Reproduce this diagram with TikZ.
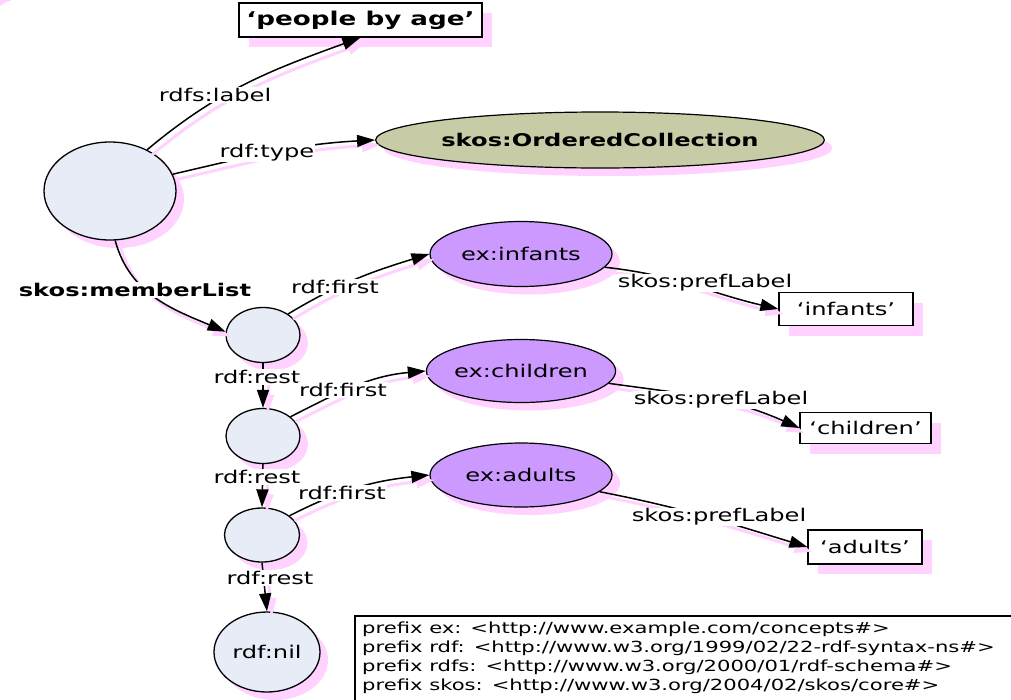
\documentclass[tikz,border=0pt]{standalone}
\usepackage{fontspec}
\setmainfont{DejaVu Sans}[FakeStretch=1.38]
\usetikzlibrary{arrows.meta,shadows,shapes.geometric}
\definecolor{shpink}{HTML}{FFD2FF}
\definecolor{blankfill}{HTML}{E8ECF6}
\definecolor{conceptfill}{HTML}{CC99FF}
\definecolor{classfill}{HTML}{C8CCA6}

\begin{document}
\begin{tikzpicture}[x=1pt,y=1pt,
  nshadow/.style={drop shadow={shadow xshift=8pt,shadow yshift=-8pt,fill=shpink,opacity=1}},
  txt/.style={font=\fontsize{17.5}{20}\selectfont},
  btxt/.style={font=\fontsize{17.5}{20}\selectfont\bfseries},
  blank/.style={ellipse,draw,line width=1.3pt,fill=blankfill,inner sep=0pt,nshadow,txt},
  concept/.style={ellipse,draw,line width=1.2pt,fill=conceptfill,inner sep=0pt,
    minimum width=182pt,minimum height=64pt,nshadow,txt},
  klass/.style={ellipse,draw,line width=1.2pt,fill=classfill,inner sep=0pt,nshadow,btxt},
  literal/.style={rectangle,draw,line width=1.2pt,fill=white,inner sep=0pt,
    drop shadow={shadow xshift=10pt,shadow yshift=-10pt,fill=shpink,opacity=1}},
  rel/.style={draw,line width=1.5pt,-{Triangle[length=18pt,width=12pt]},
    preaction={draw=shpink,line width=3pt,transform canvas={shift={(5pt,-5pt)}}}},
  lbl/.style={fill=white,inner sep=1pt,txt},
  blbl/.style={fill=white,inner sep=1pt,btxt}]

\useasboundingbox (0,0) rectangle (1011,-699);
\fill[shpink] (0,0) -- (12,0) .. controls (6,-2) .. (0,-6) -- cycle;

% resources
\node[blank,minimum width=132pt,minimum height=98pt] (top) at (110,-191) {};
\node[literal,minimum width=243pt,minimum height=34pt,font=\fontsize{19}{22}\selectfont\bfseries] (peop) at (360.5,-20) {‘people by age’};
\node[klass,minimum width=415pt,minimum height=56pt] (occ) at (600,-140) {skos:OrderedCollection};

\node[blank,minimum width=74pt,minimum height=55pt] (l1) at (263,-335) {};
\node[blank,minimum width=74pt,minimum height=55pt] (l2) at (263,-436) {};
\node[blank,minimum width=75pt,minimum height=54pt] (l3) at (262,-535) {};
\node[blank,minimum width=106pt,minimum height=80pt] (nil) at (267,-652) {rdf:nil};

\node[concept,minimum height=65pt] (inf) at (521,-254) {ex:infants};
\node[concept,minimum height=63pt] (chi) at (521,-371) {ex:children};
\node[concept] (adu) at (521,-475) {ex:adults};

\node[literal,minimum width=134pt,minimum height=33pt,txt] (inft) at (846,-309) {‘infants’};
\node[literal,minimum width=131pt,minimum height=31pt,txt] (chit) at (865.5,-428) {‘children’};
\node[literal,minimum width=114pt,minimum height=34pt,txt] (adut) at (865,-547) {‘adults’};

% properties of the collection
\draw[rel] (top.48) to[out=40,in=200] (peop.south);
\node[lbl] (plabel) at (215,-95) {rdfs:label};
\draw[rel] (top.15) to[out=13,in=183] (occ.west);
\node[lbl] (ptype) at (267,-153) {rdf:type};
\draw[rel] (top.-84) to[out=-75,in=157] (l1.175);
\node[blbl] (pmembers) at (135,-290) {skos:memberList};

% the list cells
\draw[rel] (l1.south) -- (l2.north);
\node[lbl] (prest1) at (257,-377) {rdf:rest};
\draw[rel] (l1.40) to[out=31,in=197] (inf.west);
\node[lbl] (pfirst1) at (335,-287) {rdf:first};

\draw[rel] (l2.south) -- (l3.north);
\node[lbl] (prest2) at (257,-477) {rdf:rest};
\draw[rel] (l2.35) to[out=27,in=185] (chi.west);
\node[lbl] (pfirst2) at (343,-390) {rdf:first};

\draw[rel] (l3.south) -- (nil.north);
\node[lbl] (prest3) at (270,-578) {rdf:rest};
\draw[rel] (l3.35) to[out=27,in=186] (adu.west);
\node[lbl] (pfirst3) at (342,-493) {rdf:first};

% preferred labels
\draw[rel] (inf.-9) to[out=-6,in=167] (inft.west);
\node[lbl] (ppref1) at (705,-283) {skos:prefLabel};
\draw[rel] (chi.-8) to[out=-8,in=156] (chit.west);
\node[lbl] (ppref2) at (721,-400) {skos:prefLabel};
\draw[rel] (adu.-12) to[out=-11,in=163] (adut.west);
\node[lbl] (ppref3) at (719,-517) {skos:prefLabel};

% namespace prefixes
\draw[line width=1.2pt] (355,-705) -- (355,-616) -- (1016,-616);
\node[anchor=north west,align=left,inner sep=0pt,font=\fontsize{15.3}{19}\selectfont] (prefixes) at (362,-622)
{prefix ex: <http://www.example.com/concepts\#>\\
prefix rdf: <http://www.w3.org/1999/02/22-rdf-syntax-ns\#>\\
prefix rdfs: <http://www.w3.org/2000/01/rdf-schema\#>\\
prefix skos: <http://www.w3.org/2004/02/skos/core\#>};
\end{tikzpicture}
\end{document}
